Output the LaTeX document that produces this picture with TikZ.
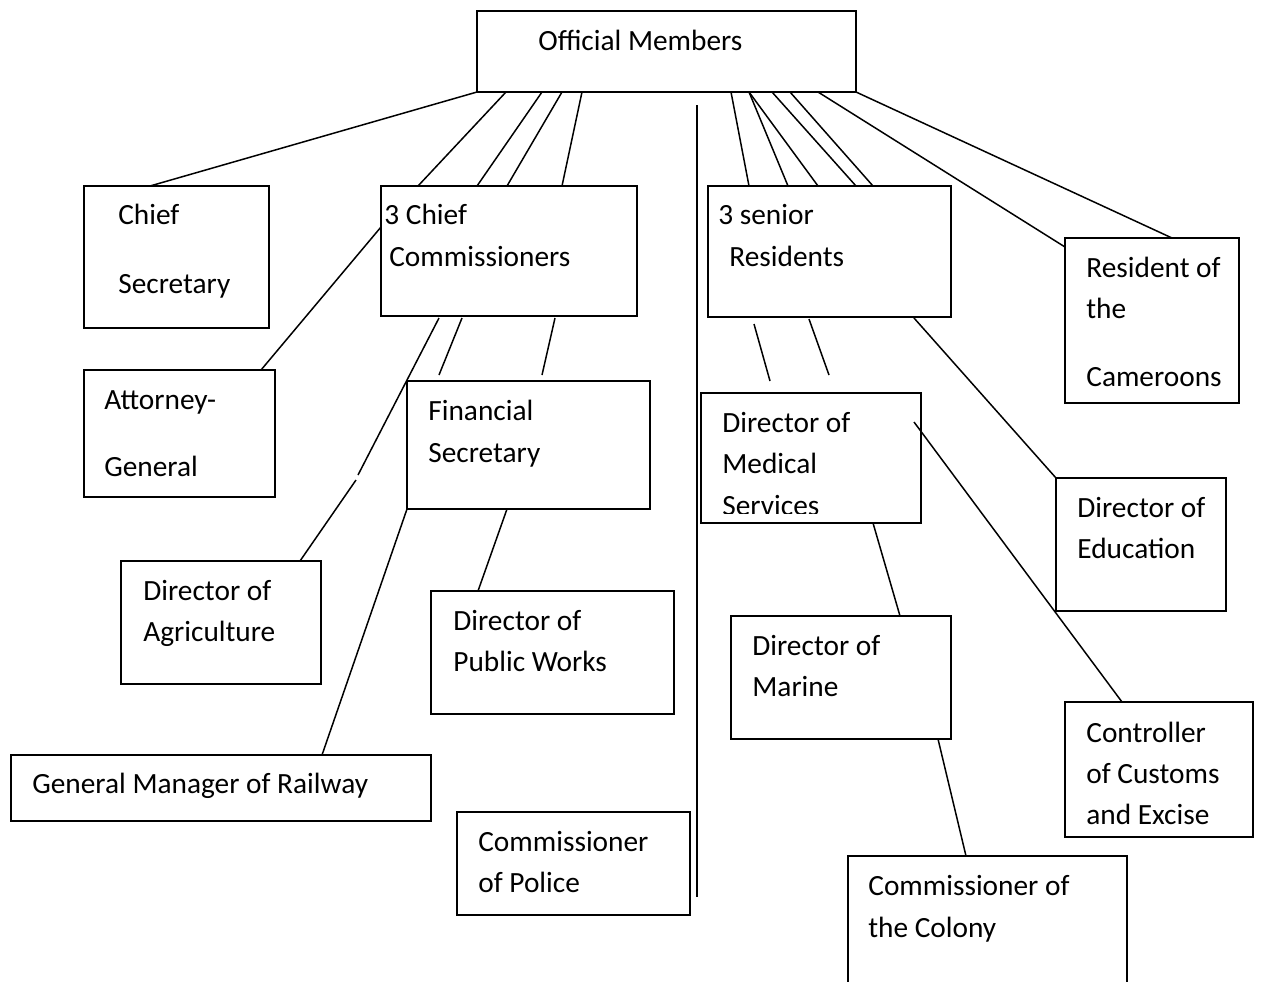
\documentclass[tikz,border=0pt]{standalone}
\usepackage{fontspec}
\setmainfont{Carlito}
\usetikzlibrary{fit,calc}

\tikzset{
  box/.style={draw=black, line width=1pt, inner sep=0pt, outer sep=0pt, fill=none},
  openbox/.style={inner sep=0pt, outer sep=0pt},
  txt/.style={anchor=base west, inner sep=0pt, font=\fontsize{16.7pt}{20pt}\selectfont},
  link/.style={draw=black, line width=0.85pt}
}

\begin{document}
\begin{tikzpicture}[x=0.02cm, y=-0.02cm]
\useasboundingbox (0,0) rectangle (1268,981);

% boxes
\node[box, fit={(477,11) (856,92)}] (om) {};
\node[box, fit={(84,186) (269,328)}] (cs) {};
\node[box, fit={(381,186) (637,316)}] (cc) {};
\node[box, fit={(708,186) (951,317)}] (sr) {};
\node[box, fit={(1065,238) (1239,403)}] (rc) {};
\node[box, fit={(84,370) (275,497)}] (ag) {};
\node[box, fit={(407,381) (650,509)}] (fs) {};
\node[box, fit={(701,393) (921,523)}] (dms) {};
\node[box, fit={(1056,478) (1226,611)}] (de) {};
\node[box, fit={(121,561) (321,684)}] (da) {};
\node[box, fit={(431,591) (674,714)}] (pw) {};
\node[box, fit={(731,616) (951,739)}] (dm) {};
\node[box, fit={(1065,702) (1253,837)}] (cce) {};
\node[box, fit={(11,755) (431,821)}] (gm) {};
\node[box, fit={(457,812) (690,915)}] (cp) {};
\node[openbox, fit={(848,856) (1127,995)}] (col) {};
\draw[line width=1pt] (col.south west) -- (col.north west) -- (col.north east) -- (col.south east);

% labels
\node[txt] (tom) at (538,50) {Official Members};
\node[txt] (tcs1) at (118,224) {Chief};
\node[txt] (tcs2) at (118,293) {Secretary};
\node[txt] (tcc1) at (384,224) {3 Chief};
\node[txt] (tcc2) at (389,266) {Commissioners};
\node[txt] (tsr1) at (718,224) {3 senior};
\node[txt] (tsr2) at (729,266) {Residents};
\node[txt] (trc1) at (1086,277) {Resident of};
\node[txt] (trc2) at (1086,318) {the};
\node[txt] (trc3) at (1086,386) {Cameroons};
\node[txt] (tag1) at (104,409) {Attorney-};
\node[txt] (tag2) at (104,476) {General};
\node[txt] (tfs1) at (428,420) {Financial};
\node[txt] (tfs2) at (428,462) {Secretary};
\node[txt] (tdms1) at (722,432) {Director of};
\node[txt] (tdms2) at (722,473) {Medical};
\begin{scope}
  \clip (701,393) rectangle (921,513);
  \node[txt] (tdms3) at (722,515) {Services};
\end{scope}
\node[txt] (tde1) at (1077,517) {Director of};
\node[txt] (tde2) at (1077,558) {Education};
\node[txt] (tda1) at (143,600) {Director of};
\node[txt] (tda2) at (143,641) {Agriculture};
\node[txt] (tpw1) at (453,630) {Director of};
\node[txt] (tpw2) at (453,671) {Public Works};
\node[txt] (tdm1) at (752,655) {Director of};
\node[txt] (tdm2) at (752,696) {Marine};
\node[txt] (tcce1) at (1086,742) {Controller};
\node[txt] (tcce2) at (1086,783) {of Customs};
\node[txt] (tcce3) at (1086,824) {and Excise};
\node[txt] (tgm) at (32,793) {General Manager of Railway};
\node[txt] (tcp1) at (478,851) {Commissioner};
\node[txt] (tcp2) at (478,892) {of Police};
\node[txt] (tcol1) at (868,895) {Commissioner of};
\node[txt] (tcol2) at (868,937) {the Colony};

% free ends of the loose strokes
\coordinate (vtop) at ($(om.south west)+(220,13)$);
\coordinate (vbot) at ($(vtop)+(0,792)$);
\coordinate (ccA) at ($(fs.north west)+(-49,94)$);
\coordinate (ccB) at ($(fs.north west)+(-51,99)$);
\coordinate (ccC) at ($(fs.north west)+(32,-6)$);
\coordinate (ccD) at ($(fs.north west)+(135,-6)$);
\coordinate (srA0) at ($(sr.south west)+(46,7)$);
\coordinate (srA1) at ($(dms.north west)+(69,-12)$);
\coordinate (srB) at ($(dms.north west)+(128,-18)$);
\coordinate (dmsX) at ($(dms.north east)+(-7,29)$);

% top fan
\draw[link] (om.south west) -- ($(cs.north west)+(66,0)$);
\draw[link] ($(om.south west)+(29,0)$) -- ($(cc.north west)+(37,0)$);
\draw[link] ($(om.south west)+(65,0)$) -- ($(cc.north west)+(96,0)$);
\draw[link] ($(om.south west)+(85,0)$) -- ($(cc.north west)+(126,0)$);
\draw[link] ($(om.south west)+(105,0)$) -- ($(cc.north west)+(181,0)$);
\draw[link] ($(om.south west)+(254,0)$) -- ($(sr.north west)+(41,0)$);
\draw[link] ($(om.south west)+(272,0)$) -- ($(sr.north west)+(80,0)$);
\draw[link] ($(om.south west)+(272,0)$) -- ($(sr.north west)+(110,0)$);
\draw[link] ($(om.south west)+(295,0)$) -- ($(sr.north west)+(148,0)$);
\draw[link] ($(om.south west)+(313,0)$) -- ($(sr.north west)+(165,0)$);
\draw[link] ($(om.south west)+(341,0)$) -- ($(rc.north west)+(0,9)$);
\draw[link] (om.south east) -- ($(rc.north west)+(107,0)$);
\draw[link] (vtop) -- (vbot);

% chief commissioners branch
\draw[link] ($(cc.north west)+(0,41)$) -- ($(ag.north east)+(-14,0)$);
\draw[link] ($(cc.south west)+(58,2)$) -- (ccA);
\draw[link] (ccB) -- ($(da.north west)+(179,0)$);
\draw[link] ($(cc.south west)+(81,2)$) -- (ccC);
\draw[link] ($(cc.south west)+(174,2)$) -- (ccD);
\draw[link] (fs.south west) -- ($(gm.north west)+(311,0)$);
\draw[link] ($(fs.south west)+(100,0)$) -- ($(pw.north west)+(47,0)$);

% senior residents branch
\draw[link] (srA0) -- (srA1);
\draw[link] ($(sr.south west)+(101,2)$) -- (srB);
\draw[link] ($(sr.south west)+(206,1)$) -- (de.north west);
\draw[link] (dmsX) -- ($(cce.north west)+(57,0)$);
\draw[link] ($(dms.south west)+(172,0)$) -- ($(dm.north west)+(169,0)$);
\draw[link] ($(dm.south west)+(207,0)$) -- ($(col.north west)+(118,0)$);
\end{tikzpicture}
\end{document}
